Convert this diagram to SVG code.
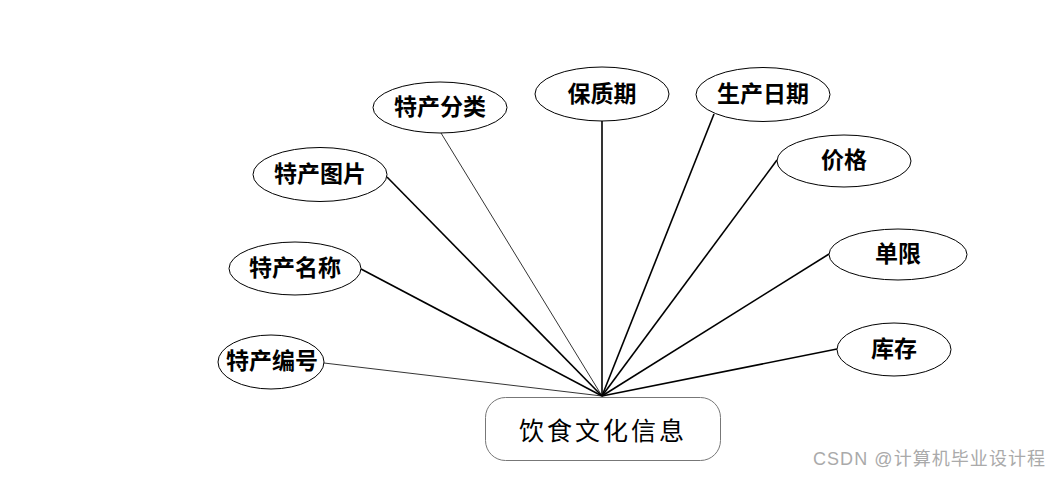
<svg xmlns="http://www.w3.org/2000/svg" width="1060" height="477" viewBox="0 0 1060 477">
<style>
.attr ellipse{fill:#fff;stroke:#000;stroke-width:1}
.attr text{font-family:"Liberation Serif","Noto Sans CJK SC",serif;font-size:23px;font-weight:bold;text-anchor:middle;dominant-baseline:central;fill:#000}
.conn line{stroke:#000}
.thin{stroke-width:0.8}
.thick{stroke-width:1.6}
</style>
<rect width="1060" height="477" fill="#fff"/>
<g id="connectors" class="conn">
<line class="thin" x1="324" y1="363" x2="602" y2="396"/>
<line class="thick" x1="361" y1="269" x2="602" y2="396"/>
<line class="thick" x1="387" y1="177" x2="602" y2="396"/>
<line class="thin" x1="441" y1="133" x2="602" y2="396"/>
<line class="thick" x1="602" y1="121" x2="602" y2="396"/>
<line class="thick" x1="714" y1="114" x2="602" y2="396"/>
<line class="thick" x1="777" y1="160" x2="602" y2="396"/>
<line class="thick" x1="829" y1="254" x2="602" y2="396"/>
<line class="thick" x1="837" y1="349" x2="602" y2="396"/>
</g>
<g id="entity">
<rect x="485.5" y="397.5" width="235" height="63" rx="20" fill="#fff" stroke="#777" stroke-width="1"/>
<text x="603" y="429" font-family="'Noto Sans CJK SC',sans-serif" font-size="25" letter-spacing="3" text-anchor="middle" dominant-baseline="central" fill="#000">饮食文化信息</text>
</g>
<g id="n-fenlei" class="attr"><ellipse cx="440" cy="107.5" rx="67" ry="25.5"/><text x="440" y="107">特产分类</text></g>
<g id="n-tupian" class="attr"><ellipse cx="320" cy="174.5" rx="67" ry="27"/><text x="320" y="174">特产图片</text></g>
<g id="n-baozhiqi" class="attr"><ellipse cx="602" cy="94" rx="67" ry="27"/><text x="602" y="94">保质期</text></g>
<g id="n-riqi" class="attr"><ellipse cx="763" cy="94.5" rx="67" ry="27"/><text x="763" y="94">生产日期</text></g>
<g id="n-jiage" class="attr"><ellipse cx="844" cy="161" rx="67" ry="26"/><text x="844" y="160">价格</text></g>
<g id="n-mingcheng" class="attr"><ellipse cx="295" cy="268.5" rx="66" ry="26.5"/><text x="295" y="268">特产名称</text></g>
<g id="n-bianhao" class="attr"><ellipse cx="271" cy="362" rx="53" ry="27"/><text x="272" y="361">特产编号</text></g>
<g id="n-danxian" class="attr"><ellipse cx="898" cy="254.5" rx="69" ry="25.5"/><text x="898" y="254">单限</text></g>
<g id="n-kucun" class="attr"><ellipse cx="894" cy="349.5" rx="57" ry="26.5"/><text x="894" y="349">库存</text></g>
<text x="813" y="459" font-family="'Liberation Sans','Noto Sans CJK SC',sans-serif" font-size="18" fill="#aaa" textLength="232" lengthAdjust="spacing" dominant-baseline="central">CSDN @计算机毕业设计程</text>
</svg>
